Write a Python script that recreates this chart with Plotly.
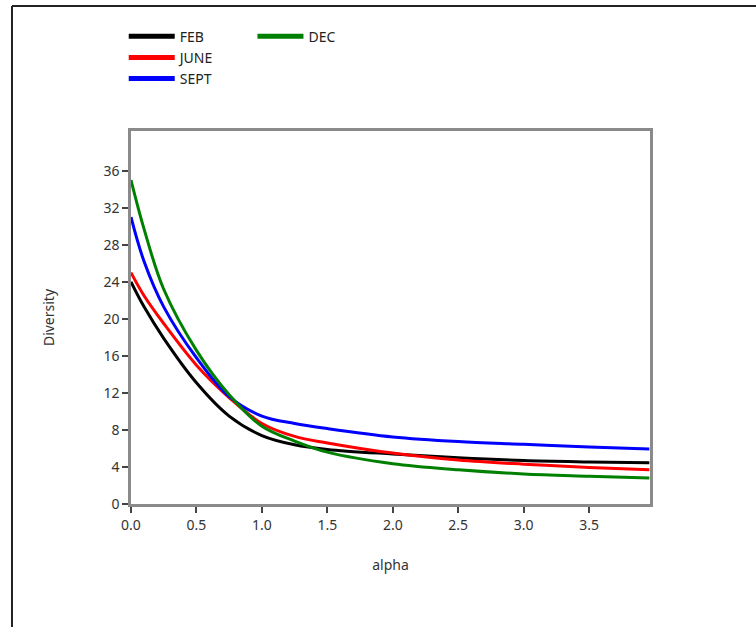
import plotly.graph_objects as go

alpha = [0, 0.1, 0.25, 0.5, 0.75, 1.0, 1.25, 1.5, 2.0, 2.5, 3.0, 3.5, 3.96]
feb = [24, 21.3, 17.9, 13.1, 9.5, 7.4, 6.4, 5.9, 5.4, 5.0, 4.7, 4.55, 4.45]
june = [25, 22.5, 19.5, 15.0, 11.5, 8.7, 7.3, 6.6, 5.5, 4.75, 4.3, 3.95, 3.7]
sept = [31, 26.2, 21.3, 15.8, 11.6, 9.5, 8.7, 8.15, 7.25, 6.75, 6.45, 6.15, 5.95]
dec = [35, 29.7, 23.2, 16.6, 11.8, 8.4, 6.8, 5.6, 4.35, 3.7, 3.25, 3.0, 2.8]

series = [("FEB", feb, "#000000", "legend"),
          ("JUNE", june, "#ff0000", "legend"),
          ("SEPT", sept, "#0000ff", "legend"),
          ("DEC", dec, "#008000", "legend2")]

yticks = list(range(0, 37, 4))
xticks = [0, 0.5, 1.0, 1.5, 2.0, 2.5, 3.0, 3.5]

fig = go.Figure()
for name, vals, color, lg in series:
    fig.add_trace(go.Scatter(x=alpha, y=vals, mode="lines", name=name,
                             line=dict(color=color, width=3, shape="spline", smoothing=1.0),
                             showlegend=False))
for name, vals, color, lg in series:
    fig.add_trace(go.Scatter(x=[None], y=[None], mode="lines", name=name,
                             line=dict(color=color, width=5), legend=lg))

axis_common = dict(showgrid=False, zeroline=False, showline=True, linecolor="#8a8a8a",
                   linewidth=2.5, mirror=True, ticks="outside", ticklen=6, tickwidth=1.5,
                   tickcolor="#444", tickfont=dict(size=14, color="#333"))

fig.update_layout(
    width=756, height=627,
    margin=dict(l=131, r=106, t=131, b=123),
    paper_bgcolor="white", plot_bgcolor="white",
    font=dict(family="Noto Sans", size=13, color="#333"),
    xaxis=dict(range=[0, 3.965], tickvals=xticks, ticktext=[f"{v:.1f}" for v in xticks],
               title=dict(text="alpha", font=dict(size=14, color="#333"), standoff=28),
               **axis_common),
    yaxis=dict(range=[0, 40.3], tickvals=yticks,
               title=dict(text="Diversity", font=dict(size=14, color="#333"), standoff=46),
               **axis_common),
    legend=dict(x=-0.014, y=1.296, xanchor="left", yanchor="top", orientation="v",
                bgcolor="rgba(0,0,0,0)", itemwidth=46, tracegroupgap=0,
                font=dict(size=14, color="#222")),
    legend2=dict(x=0.234, y=1.296, xanchor="left", yanchor="top", orientation="v",
                 bgcolor="rgba(0,0,0,0)", itemwidth=46,
                 font=dict(size=14, color="#222")),
    shapes=[
        dict(type="line", xref="paper", yref="paper", x0=-0.2293, x1=1.25, y0=1.335, y1=1.335,
             line=dict(color="#222", width=2)),
        dict(type="line", xref="paper", yref="paper", x0=-0.2293, x1=-0.2293, y0=1.335, y1=-0.4,
             line=dict(color="#222", width=2)),
    ],
)

fig.write_html("out.html", config={"displayModeBar": False},
               post_script="document.body.style.margin='0';document.body.style.overflow='hidden';")
